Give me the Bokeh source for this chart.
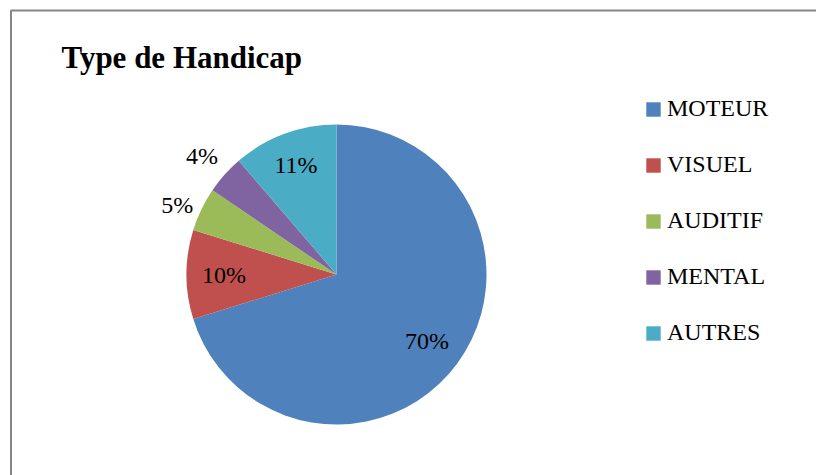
import math
from bokeh.plotting import figure
from bokeh.models import Range1d, ColumnDataSource, Legend, LegendItem
from bokeh.core.properties import value
from bokeh.embed import file_html
from bokeh.resources import INLINE

title_text = "Type de Handicap"
categories = ["MOTEUR", "VISUEL", "AUDITIF", "MENTAL", "AUTRES"]
shares = [70.2, 9.6, 4.7, 4.2, 11.3]
colors = ["#4F81BD", "#C0504D", "#9BBB59", "#8064A2", "#4BACC6"]

FONT = "Liberation Serif"

W, H = 816, 475
p = figure(width=W, height=H, output_backend="svg", toolbar_location=None,
           x_range=Range1d(0, W), y_range=Range1d(0, H), min_border=0,
           outline_line_color=None, background_fill_color="white",
           border_fill_color="white")
p.axis.visible = False
p.grid.visible = False

# chart border (left and top edges visible)
p.line(x=[10.5, 10.5, W + 5], y=[-5, H - 10, H - 10], line_color="#868686", line_width=2)

cx, cy, r = 336, H - 274, 150
total = sum(shares)
starts, ends, mids = [], [], []
acc = 0.0
for s in shares:
    a0 = math.pi / 2 - 2 * math.pi * acc / total
    acc += s
    a1 = math.pi / 2 - 2 * math.pi * acc / total
    starts.append(a0)
    ends.append(a1)
    mids.append((a0 + a1) / 2)

src = ColumnDataSource(dict(cat=categories, start=starts, end=ends, color=colors,
                            x=[cx] * len(shares), y=[cy] * len(shares)))
wr = p.wedge(x="x", y="y", radius=r, start_angle="start", end_angle="end",
             direction="clock", fill_color="color", line_color=None,
             source=src)

# inside labels
ix, iy, it = [], [], []
# outside labels (small slices)
ox, oy, ot, oal, obl = [], [], [], [], []
for s, m in zip(shares, mids):
    txt = f"{round(100 * s / total)}%"
    c, sn = math.cos(m), math.sin(m)
    if 100 * s / total >= 9:
        f = 0.75 + 0.03 * max(sn, 0)
        ix.append(cx + f * r * c)
        iy.append(cy + f * r * sn)
        it.append(txt)
    else:
        d = r + 9
        ox.append(cx + d * c)
        oy.append(cy + d * sn)
        ot.append(txt)
        oal.append("right" if c < 0 else "left")
        if abs(sn) < 0.5:
            obl.append("middle")
        else:
            obl.append("bottom" if sn > 0 else "top")

p.text(x=ix, y=iy, text=it, text_align="center", text_baseline="middle",
       text_font=value(FONT), text_font_size="24px", text_color="#000000")
osrc = ColumnDataSource(dict(x=ox, y=oy, t=ot, al=oal, bl=obl))
p.text(x="x", y="y", text="t", text_align="al", text_baseline="bl", source=osrc,
       text_font=value(FONT), text_font_size="24px", text_color="#000000")

p.text(x=[61], y=[H - 57], text=[title_text], text_font=value(FONT),
       text_font_size="31px", text_font_style="bold", text_baseline="middle",
       text_color="#000000")

items = [LegendItem(label=c, renderers=[wr], index=i) for i, c in enumerate(categories)]
legend = Legend(items=items, location=(644, 129), orientation="vertical",
                label_text_font=FONT, label_text_font_size="24px",
                label_text_color="#000000",
                glyph_width=18, glyph_height=18, label_standoff=5,
                spacing=29, padding=0, margin=0,
                border_line_color=None, background_fill_alpha=0)
p.add_layout(legend, "center")

open("out.html", "w").write(file_html(p, INLINE))
